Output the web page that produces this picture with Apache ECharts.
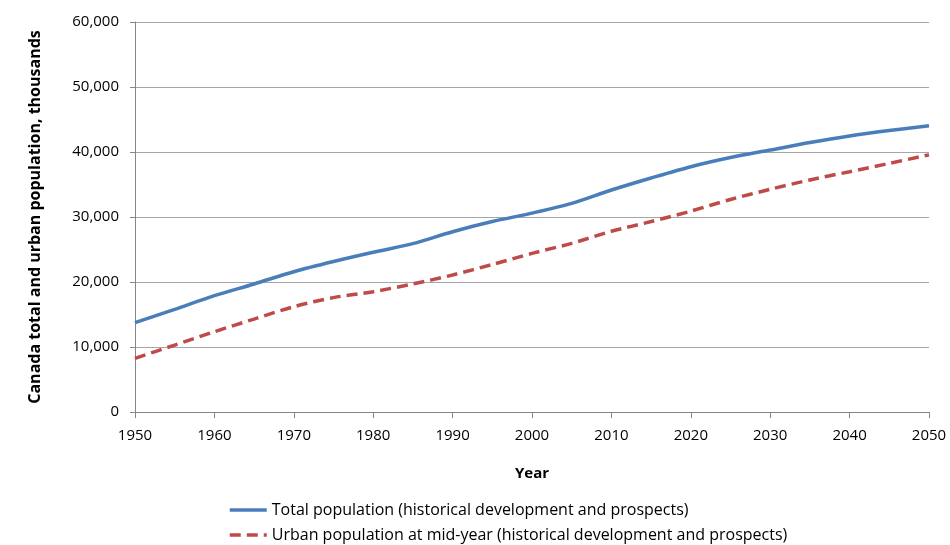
<!DOCTYPE html>
<html>
<head>
<meta charset="utf-8">
<script src="https://cdn.jsdelivr.net/npm/echarts@6/dist/echarts.min.js"></script>
<style>
html,body{margin:0;padding:0;background:#fff;}
#chart{width:950px;height:545px;}
</style>
</head>
<body>
<div id="chart"></div>
<script>
const years = [1950,1955,1960,1965,1970,1975,1980,1985,1990,1995,2000,2005,2010,2015,2020,2025,2030,2035,2040,2045,2050];
const totalPop = [13737,15800,17909,19700,21585,23150,24570,25900,27740,29300,30600,32100,34150,36000,37740,39150,40300,41450,42460,43300,44050];
const urbanPop = [8260,10300,12350,14300,16200,17600,18510,19700,21080,22700,24400,25950,27800,29300,30900,32700,34260,35700,36970,38250,39560];
const seriesNames = ['Total population (historical development and prospects)','Urban population at mid-year (historical development and prospects)'];

const font = '"Open Sans", sans-serif';
const legendBase = {left:223,itemWidth:37,itemHeight:12,padding:[2,5,2,5],
  textStyle:{fontFamily:font,fontSize:16,color:'#000'},
  itemStyle:{opacity:0},lineStyle:{width:3.5}};
const chart = echarts.init(document.getElementById('chart'), null, {renderer:'canvas'});
chart.setOption({
  animation:false,
  backgroundColor:'#fff',
  grid:{left:135,right:21,top:22,bottom:133},
  xAxis:{
    type:'value',min:1950,max:2050,interval:10,
    name:'Year',nameLocation:'middle',nameGap:54,
    nameTextStyle:{fontFamily:font,fontWeight:'bold',fontSize:15,color:'#000'},
    axisLine:{lineStyle:{color:'#868686',width:1}},
    axisTick:{show:true,length:6,lineStyle:{color:'#868686'}},
    axisLabel:{fontFamily:font,fontSize:15,color:'#000',margin:16,formatter:v=>String(v)},
    splitLine:{show:false}
  },
  yAxis:{
    type:'value',min:0,max:60000,interval:10000,
    name:'Canada total and urban population, thousands',nameLocation:'middle',nameGap:92,
    nameTextStyle:{fontFamily:font,fontWeight:'bold',fontSize:16,color:'#000'},
    axisLine:{show:true,lineStyle:{color:'#868686',width:1}},
    axisTick:{show:true,length:5,lineStyle:{color:'#868686'}},
    axisLabel:{fontFamily:font,fontSize:15,color:'#000',margin:16,formatter:v=>v.toLocaleString('en-US')},
    splitLine:{lineStyle:{color:'#a6a6a6',width:1}}
  },
  legend:[
    Object.assign({top:500,data:[seriesNames[0]]},legendBase),
    Object.assign({top:525,data:[seriesNames[1]]},legendBase)
  ],
  series:[
    {name:seriesNames[0],type:'line',smooth:0.3,symbol:'none',
     data:years.map((y,i)=>[y,totalPop[i]]),
     lineStyle:{color:'#4a7ebb',width:3.5},itemStyle:{color:'#4a7ebb'}},
    {name:seriesNames[1],type:'line',smooth:0.3,symbol:'none',
     data:years.map((y,i)=>[y,urbanPop[i]]),
     lineStyle:{color:'#be4b48',width:3.5,type:[11,6]},itemStyle:{color:'#be4b48'}}
  ]
});
</script>
</body>
</html>
